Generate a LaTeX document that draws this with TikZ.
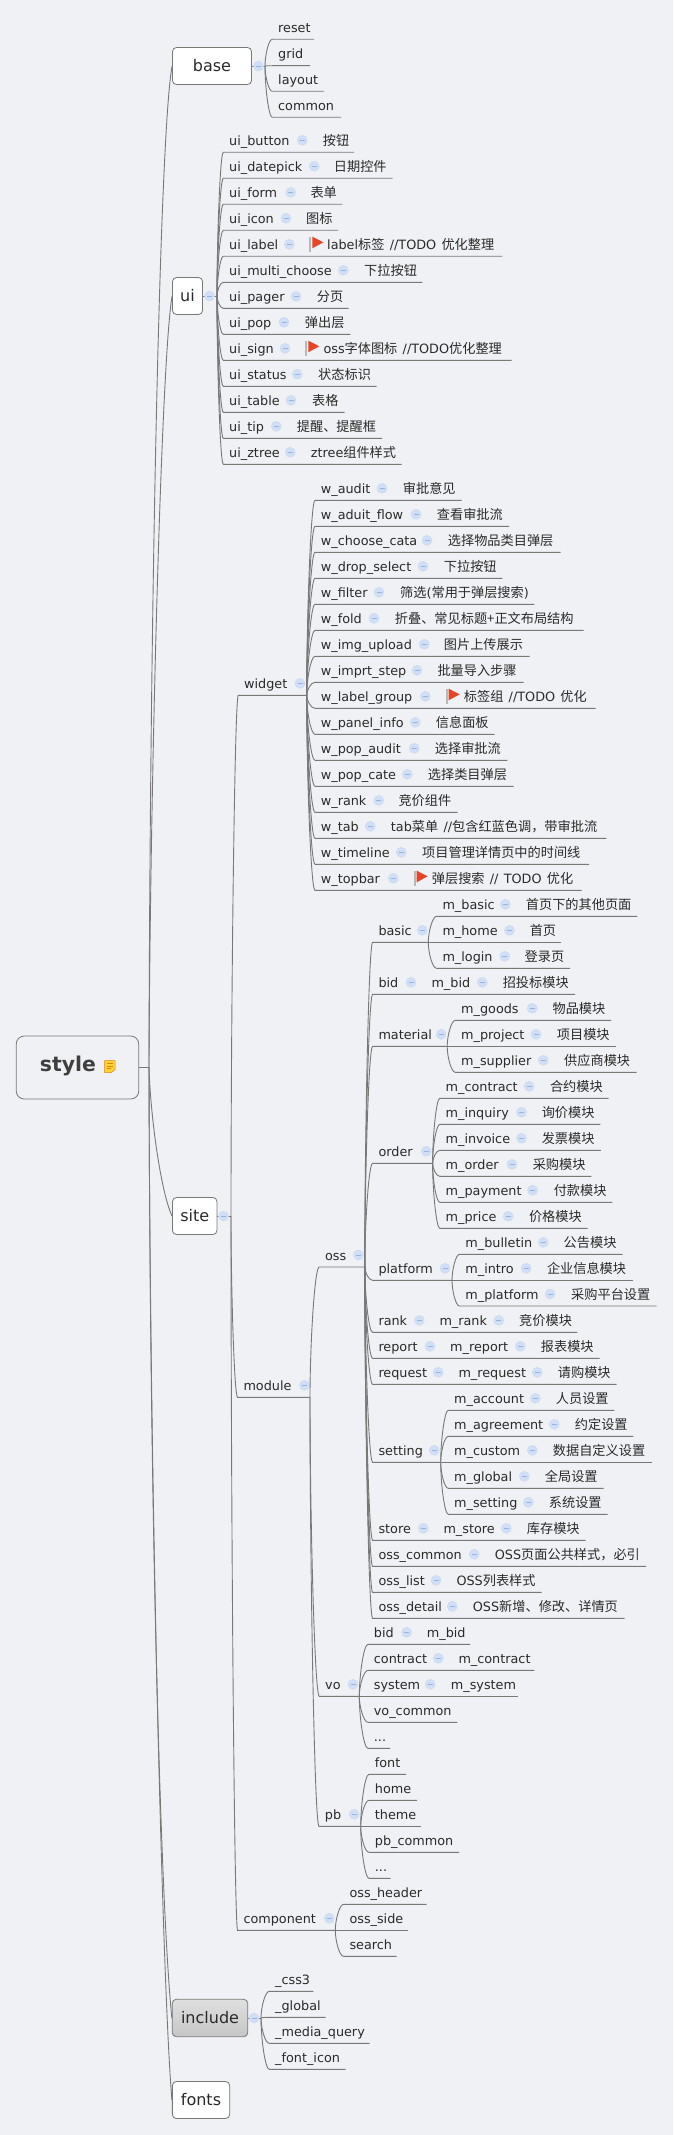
\documentclass[tikz,border=0pt]{standalone}
\usepackage{fontspec}
\setmainfont[WordSpace=1.3]{DejaVu Sans}
\newfontfamily\cjk[Scale=1.03]{Noto Sans CJK SC}
\usetikzlibrary{calc}
\definecolor{bgc}{RGB}{240,241,244}
\definecolor{linec}{RGB}{120,120,120}
\definecolor{txtc}{RGB}{42,42,42}
\definecolor{minc}{RGB}{150,180,225}
\definecolor{circc}{RGB}{208,223,245}
\definecolor{flagc}{RGB}{232,68,38}
\newcommand{\z}[1]{{\cjk #1}}
\tikzset{
  lbl/.style={anchor=base west,inner sep=0pt,text=txtc,font=\fontsize{12.8}{15}\selectfont},
  box/.style={draw=linec,line width=0.8pt,rounded corners=4pt,fill=white,inner sep=0pt,text=txtc,font=\fontsize{16}{19}\selectfont},
  conn/.style={draw=linec,line width=0.9pt},
  colp/.style={circle,inner sep=0pt,minimum size=10pt,fill=circc,draw=circc!85!minc,line width=0.4pt,
    path picture={\draw[minc,line width=0.7pt] ([xshift=-2.5pt]path picture bounding box.center) -- ([xshift=2.5pt]path picture bounding box.center);}},
}
% topic: name, parent, text x, underline y, end x, text
\newcommand{\tp}[6]{%
  \coordinate (#1-s) at ({#3-5.7},#4);
  \coordinate (#1-e) at (#5,#4);
  \draw[conn] let \p1=(#2-e), \p2=(#1-s) in (\x1,\y1) .. controls (\x1,{\y1+0.4*(\y2-\y1)}) and ({\x1+0.5*(\x2-\x1)},\y2) .. (\x2,\y2) -- (#1-e);
  \node[lbl] (#1) at (#3,{#4-7}) {#6};
}
% follow-on text on the same line: name, circle x, text x, underline y, text
\newcommand{\nx}[5]{%
  \node[colp] (#1-c) at (#2,{#4-12}) {};
  \node[lbl] (#1) at (#3,{#4-7}) {#5};
}
% circle only: name, x, underline y
\newcommand{\co}[3]{\node[colp] (#1-c) at (#2,{#3-12}) {};}
% flag: x, underline y
\newcommand{\flg}[2]{%
  \fill[gray!55] (#1,{#2-19.6}) rectangle ({#1+2},{#2-4.6});
  \fill[flagc] ({#1+3},{#2-19.6}) -- ({#1+14},{#2-14}) -- ({#1+3},{#2-8}) -- cycle;
}
\begin{document}
\begin{tikzpicture}[x=1pt,y=-1pt]
\useasboundingbox[fill=bgc] (0,0) rectangle (673,2135);
% root
\node[box,fill=bgc,rounded corners=8pt,minimum width=122.5pt,minimum height=63pt] (style) at (77.5,1067.5) {};
\node[anchor=center,inner sep=0pt,text=txtc!90!white,font=\fontsize{20.4}{24}\bfseries\selectfont] (stylet) at (68,1066) {style};
\fill[yellow!65!orange!80!white] (104.5,1060.5) -- (115,1060.5) -- (115,1069.5) -- (111.5,1072.5) -- (104.5,1072.5) -- cycle;
\draw[orange!60!brown,line width=0.5pt] (104.5,1060.5) -- (115,1060.5) -- (115,1069.5) -- (111.5,1072.5) -- (104.5,1072.5) -- cycle;
\draw[orange!60!brown,line width=0.4pt] (106.5,1063.5) -- (113,1063.5) (106.5,1066) -- (113,1066) (106.5,1068.5) -- (111,1068.5);
\coordinate (root-e) at (149,1067);
\draw[conn] (style.east |- root-e) -- (root-e);
% main boxes
\node[box,minimum width=79pt,minimum height=37pt] (base) at (212,66) {base};
\node[box,minimum width=30pt,minimum height=37pt] (ui) at (187.5,296) {ui};
\node[box,minimum width=44.5pt,minimum height=37pt] (site) at (194.7,1216) {site};
\node[box,draw=linec,rounded corners=4pt,top color=gray!25,bottom color=gray!45,minimum width=75.5pt,minimum height=37.4pt] (include) at (210,2018) {include};
\node[box,minimum width=57.3pt,minimum height=37pt] (fonts) at (201,2100) {fonts};
\draw[conn] (root-e) .. controls (150,600) and (160,130) .. (base.west);
\draw[conn] (root-e) .. controls (150,800) and (161,360) .. (ui.west);
\draw[conn] (root-e) .. controls (150,1110) and (160,1190) .. (site.west);
\draw[conn] (root-e) .. controls (150,1500) and (160,1900) .. (include.west);
\draw[conn] (root-e) .. controls (150,1500) and (163,2000) .. (fonts.west);
% base
\coordinate (base-e) at (265,66);
\draw[conn] (base.east) -- (base-e);
\node[colp] (base-c) at (258.5,66) {};
\tp{reset}{base}{278}{39.3}{314}{reset}
\tp{grid}{base}{278}{65.7}{310}{grid}
\tp{layout}{base}{278}{91.3}{324}{layout}
\tp{common}{base}{278}{117.3}{341}{common}
% ui
\coordinate (ui-e) at (217,296);
\draw[conn] (ui.east) -- (ui-e);
\node[colp] (ui-c) at (209.5,296) {};
\tp{uibutton}{ui}{229}{152.3}{354}{ui\_button}\nx{uibuttonz}{302.3}{322.7}{152.3}{\z{按钮}}
\tp{uidatepick}{ui}{229}{178.3}{392.7}{ui\_datepick}\nx{uidatepickz}{314.3}{333.7}{178.3}{\z{日期控件}}
\tp{uiform}{ui}{229}{204.3}{342.3}{ui\_form}\nx{uiformz}{290.7}{310.3}{204.3}{\z{表单}}
\tp{uiicon}{ui}{229}{230.3}{338.3}{ui\_icon}\nx{uiiconz}{286}{306}{230.3}{\z{图标}}
\tp{uilabel}{ui}{229}{256.3}{502.3}{ui\_label}\nx{uilabelz}{289.3}{327}{256.3}{label\z{标签} //TODO \z{优化整理}}\flg{309.3}{256.3}
\tp{uimulti}{ui}{229}{282.3}{422.3}{ui\_multi\_choose}\nx{uimultiz}{343.3}{364}{282.3}{\z{下拉按钮}}
\tp{uipager}{ui}{229}{308.3}{348.7}{ui\_pager}\nx{uipagerz}{296}{316.7}{308.3}{\z{分页}}
\tp{uipop}{ui}{229}{334.3}{350.3}{ui\_pop}\nx{uipopz}{284}{304.7}{334.3}{\z{弹出层}}
\tp{uisign}{ui}{229}{360.3}{511.7}{ui\_sign}\nx{uisignz}{285}{323.3}{360.3}{oss\z{字体图标} //TODO\z{优化整理}}\flg{305.3}{360.3}
\tp{uistatus}{ui}{229}{386.3}{376.7}{ui\_status}\nx{uistatusz}{297.3}{318}{386.3}{\z{状态标识}}
\tp{uitable}{ui}{229}{412.3}{344.7}{ui\_table}\nx{uitablez}{291}{312}{412.3}{\z{表格}}
\tp{uitip}{ui}{229}{438.3}{382}{ui\_tip}\nx{uitipz}{276.3}{296.7}{438.3}{\z{提醒、提醒框}}
\tp{uiztree}{ui}{229}{464.3}{401.7}{ui\_ztree}\nx{uiztreez}{290.3}{310.7}{464.3}{ztree\z{组件样式}}
% site
\coordinate (site-e) at (231,1216);
\draw[conn] (site.east) -- (site-e);
\node[colp] (site-c) at (223.5,1216) {};
\tp{widget}{site}{244}{695.3}{306.7}{widget}\co{widget}{300}{695.3}
\tp{module}{site}{243.3}{1397.3}{310}{module}\co{module}{304.5}{1397.3}
\tp{component}{site}{243.3}{1930.3}{335.3}{component}\co{component}{329.3}{1930.3}
% widget
\tp{waudit}{widget}{320.7}{500.3}{461.7}{w\_audit}\nx{wauditz}{382}{402.7}{500.3}{\z{审批意见}}
\tp{waduit}{widget}{320.7}{526.3}{509}{w\_aduit\_flow}\nx{waduitz}{416}{436.7}{526.3}{\z{查看审批流}}
\tp{wchoose}{widget}{320.7}{552.3}{560.7}{w\_choose\_cata}\nx{wchoosez}{427}{447.7}{552.3}{\z{选择物品类目弹层}}
\tp{wdrop}{widget}{320.7}{578.3}{502.3}{w\_drop\_select}\nx{wdropz}{423}{443.7}{578.3}{\z{下拉按钮}}
\tp{wfilter}{widget}{320.7}{604.3}{534.3}{w\_filter}\nx{wfilterz}{379}{400}{604.3}{\z{筛选}(\z{常用于弹层搜索})}
\tp{wfold}{widget}{320.7}{630.3}{583.7}{w\_fold}\nx{wfoldz}{374}{394.7}{630.3}{\z{折叠、常见标题+正文布局结构}}
\tp{wimg}{widget}{320.7}{656.3}{529.7}{w\_img\_upload}\nx{wimgz}{424.3}{443.7}{656.3}{\z{图片上传展示}}
\tp{wimprt}{widget}{320.7}{682.3}{523.7}{w\_imprt\_step}\nx{wimprtz}{417}{437.3}{682.3}{\z{批量导入步骤}}
\tp{wlabel}{widget}{320.7}{708.3}{595.7}{w\_label\_group}\nx{wlabelz}{425.3}{463.7}{708.3}{\z{标签组} //TODO \z{优化}}\flg{445.7}{708.3}
\tp{wpanel}{widget}{320.7}{734.3}{494.7}{w\_panel\_info}\nx{wpanelz}{415.3}{435.7}{734.3}{\z{信息面板}}
\tp{wpopa}{widget}{320.7}{760.3}{507.3}{w\_pop\_audit}\nx{wpopaz}{414.3}{434.7}{760.3}{\z{选择审批流}}
\tp{wpopc}{widget}{320.7}{786.3}{513.7}{w\_pop\_cate}\nx{wpopcz}{407.3}{427.7}{786.3}{\z{选择类目弹层}}
\tp{wrank}{widget}{320.7}{812.3}{457.7}{w\_rank}\nx{wrankz}{378.7}{398.3}{812.3}{\z{竞价组件}}
\tp{wtab}{widget}{320.7}{838.3}{606.3}{w\_tab}\nx{wtabz}{370.3}{390.7}{838.3}{tab\z{菜单} //\z{包含红蓝色调，带审批流}}
\tp{wtime}{widget}{320.7}{864.3}{589}{w\_timeline}\nx{wtimez}{401.3}{422}{864.3}{\z{项目管理详情页中的时间线}}
\tp{wtop}{widget}{320.7}{890.3}{581.7}{w\_topbar}\nx{wtopz}{393.3}{431.7}{890.3}{\z{弹层搜索} // TODO \z{优化}}\flg{413.7}{890.3}
% module
\tp{oss}{module}{324.9}{1267}{364.8}{oss}\co{oss}{358.4}{1267}
\tp{vo}{module}{325}{1696.3}{359.3}{vo}\co{vo}{353}{1696.3}
\tp{pb}{module}{324.7}{1826.3}{360.7}{pb}\co{pb}{354.3}{1826.3}
% oss
\tp{basic}{oss}{378.3}{942.3}{428.3}{basic}\co{basic}{422.3}{942.3}
\tp{bid}{oss}{378.3}{994.3}{575}{bid}\nx{mbid}{411}{431.3}{994.3}{m\_bid}\nx{mbidz}{482.4}{502.6}{994.3}{\z{招投标模块}}
\tp{material}{oss}{378.3}{1046.3}{447.2}{material}\co{material}{441.2}{1046.3}
\tp{order}{oss}{378.3}{1163.3}{432.6}{order}\co{order}{426.2}{1163.3}
\tp{platform}{oss}{378.3}{1280.3}{452}{platform}\co{platform}{445}{1280.3}
\tp{rank}{oss}{378.3}{1332.3}{577.3}{rank}\nx{mrank}{419.3}{439.3}{1332.3}{m\_rank}\nx{mrankz}{498.7}{519}{1332.3}{\z{竞价模块}}
\tp{report}{oss}{378.3}{1358.3}{599.7}{report}\nx{mreport}{430}{450}{1358.3}{m\_report}\nx{mreportz}{520.3}{540.7}{1358.3}{\z{报表模块}}
\tp{request}{oss}{378.3}{1384.3}{616.7}{request}\nx{mrequest}{438.3}{458.3}{1384.3}{m\_request}\nx{mrequestz}{537.3}{557.7}{1384.3}{\z{请购模块}}
\tp{setting}{oss}{378.3}{1462.3}{440.7}{setting}\co{setting}{434.3}{1462.3}
\tp{store}{oss}{378.3}{1540.3}{585.7}{store}\nx{mstore}{423.3}{443.3}{1540.3}{m\_store}\nx{mstorez}{506.3}{526.7}{1540.3}{\z{库存模块}}
\tp{osscommon}{oss}{378.3}{1566.3}{646}{oss\_common}\nx{osscommonz}{474.3}{494.7}{1566.3}{OSS\z{页面公共样式，必引}}
\tp{osslist}{oss}{378.3}{1592.3}{541.7}{oss\_list}\nx{osslistz}{436}{456.3}{1592.3}{OSS\z{列表样式}}
\tp{ossdetail}{oss}{378.3}{1618.3}{624.7}{oss\_detail}\nx{ossdetailz}{452.3}{472.7}{1618.3}{OSS\z{新增、修改、详情页}}
% basic
\tp{mbasic}{basic}{442.3}{916.3}{637.3}{m\_basic}\nx{mbasicz}{505.3}{525.7}{916.3}{\z{首页下的其他页面}}
\tp{mhome}{basic}{442.3}{942.3}{561.4}{m\_home}\nx{mhomez}{509.4}{529.6}{942.3}{\z{首页}}
\tp{mlogin}{basic}{442.3}{968.3}{570}{m\_login}\nx{mloginz}{504.7}{524.5}{968.3}{\z{登录页}}
% material
\tp{mgoods}{material}{461}{1020.3}{611.2}{m\_goods}\nx{mgoodsz}{532.2}{552.4}{1020.3}{\z{物品模块}}
\tp{mproject}{material}{461}{1046.3}{615.5}{m\_project}\nx{mprojectz}{536}{556.7}{1046.3}{\z{项目模块}}
\tp{msupplier}{material}{461}{1072.3}{636.5}{m\_supplier}\nx{msupplierz}{543.3}{564}{1072.3}{\z{供应商模块}}
% order
\tp{mcontract}{order}{445.5}{1098.3}{608.6}{m\_contract}\nx{mcontractz}{529.2}{549.8}{1098.3}{\z{合约模块}}
\tp{minquiry}{order}{445.5}{1124.3}{600.4}{m\_inquiry}\nx{minquiryz}{521.5}{541.6}{1124.3}{\z{询价模块}}
\tp{minvoice}{order}{445.5}{1150.3}{600.9}{m\_invoice}\nx{minvoicez}{521.5}{541.6}{1150.3}{\z{发票模块}}
\tp{morder}{order}{445.5}{1176.3}{591.4}{m\_order}\nx{morderz}{512}{532.6}{1176.3}{\z{采购模块}}
\tp{mpayment}{order}{445.5}{1202.3}{612.4}{m\_payment}\nx{mpaymentz}{532.6}{553.6}{1202.3}{\z{付款模块}}
\tp{mprice}{order}{445.5}{1228.3}{587.6}{m\_price}\nx{mpricez}{508.2}{528.8}{1228.3}{\z{价格模块}}
% platform
\tp{mbulletin}{platform}{465.2}{1254.3}{622.7}{m\_bulletin}\nx{mbulletinz}{543.3}{563.5}{1254.3}{\z{公告模块}}
\tp{mintro}{platform}{465.2}{1280.3}{632.6}{m\_intro}\nx{mintroz}{526.2}{546.8}{1280.3}{\z{企业信息模块}}
\tp{mplatform}{platform}{465.2}{1306}{656.7}{m\_platform}\nx{mplatformz}{550}{571}{1306}{\z{采购平台设置}}
% setting
\tp{maccount}{setting}{454}{1410.3}{614.3}{m\_account}\nx{maccountz}{535.3}{555.7}{1410.3}{\z{人员设置}}
\tp{magreement}{setting}{454}{1436.3}{633.3}{m\_agreement}\nx{magreementz}{554.3}{574.7}{1436.3}{\z{约定设置}}
\tp{mcustom}{setting}{454}{1462.3}{651.7}{m\_custom}\nx{mcustomz}{532.3}{552.7}{1462.3}{\z{数据自定义设置}}
\tp{mglobal}{setting}{454}{1488.3}{603.7}{m\_global}\nx{mglobalz}{524.3}{544.7}{1488.3}{\z{全局设置}}
\tp{msetting}{setting}{454}{1514.3}{607.7}{m\_setting}\nx{msettingz}{528.3}{548.7}{1514.3}{\z{系统设置}}
% vo
\tp{vobid}{vo}{373.7}{1644.3}{470}{bid}\nx{vombid}{406.7}{426.7}{1644.3}{m\_bid}
\tp{vocontract}{vo}{373.7}{1670.3}{534.3}{contract}\nx{vomcontract}{438.3}{458.3}{1670.3}{m\_contract}
\tp{vosystem}{vo}{373.7}{1696.3}{518.3}{system}\nx{vomsystem}{430.3}{450.7}{1696.3}{m\_system}
\tp{vocommon}{vo}{373.7}{1722.3}{457.3}{vo\_common}
\tp{vodots}{vo}{373.7}{1748.3}{390}{...}
% pb
\tp{pbfont}{pb}{374.7}{1774.3}{406}{font}
\tp{pbhome}{pb}{374.7}{1800.3}{417}{home}
\tp{pbtheme}{pb}{374.7}{1826.3}{420.7}{theme}
\tp{pbcommon}{pb}{374.7}{1852.3}{459}{pb\_common}
\tp{pbdots}{pb}{374.7}{1878.3}{390.7}{...}
% component
\tp{ossheader}{component}{349.3}{1904.3}{426.7}{oss\_header}
\tp{ossside}{component}{349.3}{1930.3}{407.7}{oss\_side}
\tp{osssearch}{component}{349.3}{1956.3}{396.7}{search}
% include
\coordinate (include-e) at (261,2018);
\draw[conn] (include.east) -- (include-e);
\node[colp] (include-c) at (254,2018) {};
\tp{css}{include}{275}{1991.3}{313.3}{\_css3}
\tp{iglobal}{include}{275}{2017.3}{325.7}{\_global}
\tp{imedia}{include}{275}{2043.3}{369.7}{\_media\_query}
\tp{ifont}{include}{275}{2069.3}{345.7}{\_font\_icon}
\end{tikzpicture}
\end{document}
